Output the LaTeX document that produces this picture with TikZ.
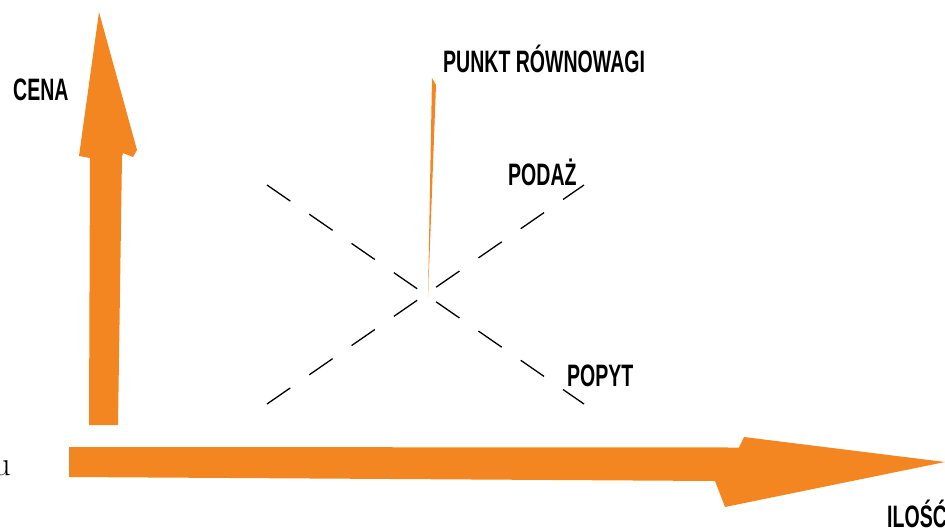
\documentclass[tikz,border=0pt]{standalone}
\usepackage{fontspec}
\usepackage{graphicx}
\newfontfamily\lblfont{Liberation Sans}
\definecolor{arroworange}{RGB}{244,134,34}
\tikzset{
  lbl/.style={inner sep=0pt, anchor=base west, font=\lblfont\bfseries\fontsize{31}{31}\selectfont},
  curve/.style={black, line width=1.3pt, dash pattern=on 28.3pt off 23.1pt},
  bigarrow/.style={fill=arroworange, draw=none}
}
\newcommand{\cond}[1]{\scalebox{0.63}[1]{#1}}
\begin{document}
\begin{tikzpicture}[x=1pt,y=-1pt]
\useasboundingbox (0,0) rectangle (945,528);
% vertical axis arrow
\fill[bigarrow] (89,425) -- (90,158) -- (79,156) -- (99,12) -- (137,150) -- (133,157) -- (123,153) -- (122,157) -- (118,425) -- cycle;
% horizontal axis arrow
\fill[bigarrow] (69,447) -- (739,447.5) -- (744,437) -- (945,462) -- (725,507) -- (715,481) -- (69,477) -- cycle;
% supply and demand lines
\coordinate (popytA) at (267,185);
\coordinate (popytB) at (584,404);
\coordinate (podazA) at (267,404);
\coordinate (podazB) at (584,185);
\draw[curve] (popytA) -- (popytB);
\draw[curve] (podazA) -- (podazB);
% equilibrium pointer
\coordinate (eqtopL) at (432,78);
\coordinate (eqtopR) at (436,85);
\coordinate (eq) at (428,297);
\fill[arroworange] (eqtopL) -- (eqtopR) -- (eq) -- cycle;
% labels
\node[lbl] (cena) at (13,100) {\cond{CENA}};
\node[lbl] (punkt) at (443,72) {\cond{PUNKT RÓWNOWAGI}};
\node[lbl] (podaz) at (508,185) {\cond{PODAŻ}};
\node[lbl] (popyt) at (567,386) {\cond{POPYT}};
\node[lbl] (ilosc) at (887,527) {\cond{ILOŚĆ}};
\node[inner sep=0pt, anchor=base east, font=\fontsize{34}{34}\selectfont] (uchar) at (11,475) {u};
\end{tikzpicture}
\end{document}
